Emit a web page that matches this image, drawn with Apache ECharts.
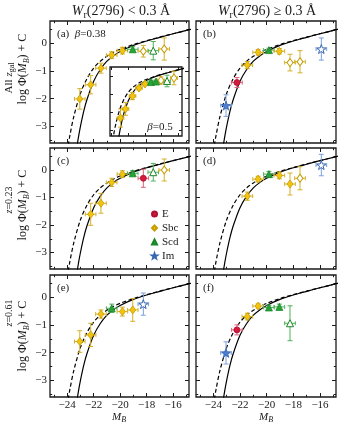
<!DOCTYPE html>
<html>
<head>
<meta charset="UTF-8">
<title>Luminosity functions</title>
<script src="https://cdn.jsdelivr.net/npm/echarts@6/dist/echarts.min.js"></script>
<style>html,body{margin:0;padding:0;background:#fff;}</style>
</head>
<body>
<div id="main" style="width:355px;height:427px;"></div>
<script>
// fitted curves (same in every panel)
const solidM   = [-23.3, -23.15, -23.0, -22.75, -22.5, -22.0, -21.5, -21.0, -20.5, -20.0, -19.0, -18.0, -17.0, -16.0, -15.0, -14.5];
const solidPhi = [-3.83, -3.39, -3.00, -2.45, -2.02, -1.37, -0.95, -0.65, -0.45, -0.30, -0.08, 0.08, 0.21, 0.34, 0.46, 0.52];
const dashM    = [-24.0, -23.9, -23.8, -23.5, -23.0, -22.5, -22.0, -21.5, -21.0, -20.5, -20.0, -19.0, -18.0, -17.0, -16.0, -15.0, -14.5];
const dashPhi  = [-3.91, -3.61, -3.33, -2.64, -1.81, -1.27, -0.90, -0.65, -0.47, -0.33, -0.22, -0.05, 0.09, 0.22, 0.34, 0.46, 0.52];

// [M_B, log phi, error, type, hollow]
const pointsA = [
  [-23.05, -2.01, 0.37, 'Sbc', 0], [-22.23, -1.50, 0.33, 'Sbc', 0], [-21.45, -0.90, 0.18, 'Sbc', 0],
  [-20.64, -0.43, 0.12, 'Sbc', 0], [-19.83, -0.27, 0.12, 'Sbc', 0], [-19.05, -0.22, 0.09, 'Scd', 0],
  [-18.25, -0.29, 0.21, 'Sbc', 1], [-17.50, -0.27, 0.33, 'Scd', 1], [-16.67, -0.21, 0.40, 'Sbc', 1]
];
const pointsB = [
  [-23.05, -2.25, 0.39, 'Im', 0], [-22.23, -1.42, 0.18, 'E', 0], [-21.45, -0.79, 0.13, 'Sbc', 0],
  [-20.64, -0.33, 0.10, 'Sbc', 0], [-19.83, -0.25, 0.07, 'Scd', 0], [-19.05, -0.29, 0.10, 'Sbc', 0],
  [-18.25, -0.70, 0.30, 'Sbc', 1], [-17.50, -0.67, 0.40, 'Sbc', 1], [-15.90, -0.21, 0.40, 'Im', 1]
];
const pointsC = [
  [-22.23, -1.61, 0.40, 'Sbc', 0], [-21.45, -1.21, 0.36, 'Sbc', 0], [-20.64, -0.45, 0.15, 'Sbc', 0],
  [-19.83, -0.15, 0.12, 'Sbc', 0], [-19.05, -0.12, 0.10, 'Scd', 0], [-18.25, -0.30, 0.33, 'E', 0],
  [-17.50, -0.08, 0.32, 'Scd', 1], [-16.67, 0.00, 0.40, 'Sbc', 1]
];
const pointsD = [
  [-21.45, -0.95, 0.15, 'Sbc', 0], [-20.64, -0.33, 0.10, 'Sbc', 0], [-19.83, -0.15, 0.10, 'Scd', 0],
  [-19.05, -0.20, 0.12, 'Sbc', 0], [-18.25, -0.51, 0.40, 'Sbc', 0], [-17.50, -0.30, 0.42, 'Sbc', 1],
  [-15.90, 0.18, 0.39, 'Im', 1]
];
const pointsE = [
  [-23.05, -1.60, 0.39, 'Sbc', 0], [-22.23, -1.36, 0.42, 'Sbc', 0], [-21.45, -0.61, 0.15, 'Sbc', 0],
  [-20.64, -0.40, 0.15, 'Scd', 0], [-19.83, -0.52, 0.16, 'Sbc', 0], [-19.05, -0.46, 0.41, 'Sbc', 0],
  [-18.25, -0.25, 0.40, 'Im', 1]
];
const pointsF = [
  [-23.05, -2.01, 0.40, 'Im', 0], [-22.23, -1.18, 0.18, 'E', 0], [-21.45, -0.70, 0.12, 'Sbc', 0],
  [-20.64, -0.32, 0.08, 'Sbc', 0], [-19.83, -0.37, 0.08, 'Scd', 0], [-19.05, -0.35, 0.10, 'Scd', 0],
  [-18.25, -0.94, 0.63, 'Scd', 1]
];
const pointsInset = [
  [-22.93, -2.31, 0.50, 'Sbc', 0], [-22.33, -1.81, 0.35, 'Sbc', 0], [-21.48, -1.10, 0.20, 'Sbc', 0],
  [-20.70, -0.66, 0.10, 'Sbc', 0], [-19.97, -0.44, 0.08, 'Sbc', 0], [-19.25, -0.33, 0.08, 'Scd', 0],
  [-18.64, -0.30, 0.08, 'Scd', 0], [-18.04, -0.24, 0.20, 'Sbc', 1], [-17.31, -0.27, 0.32, 'Scd', 1],
  [-16.47, -0.11, 0.37, 'Sbc', 1]
];

const xMajor = [-24, -22, -20, -18, -16];
const xMinor = [-25, -23, -21, -19, -17, -15];
const yMajor = [0, -1, -2, -3];
const yMinor = [0.5, -0.5, -1.5, -2.5, -3.5];
const legendNames = ['E', 'Sbc', 'Scd', 'Im'];

const SERIF = 'Liberation Serif';
const INK = '#1a1a1a';
const STAR = 'path://M0,-10L2.35,-3.24L9.51,-3.09L3.8,1.24L5.88,8.09L0,4L-5.88,8.09L-3.8,1.24L-9.51,-3.09L-2.35,-3.24Z';
const STYLES = {
  E:   {symbol: 'circle', size: 6, fill: '#d21c3c', edge: '#b01030', bar: '#e0607a'},
  Sbc: {symbol: 'diamond', size: [6, 8], fill: '#f2c40c', edge: '#c49c05', bar: '#d4b02a'},
  Scd: {symbol: 'triangle', size: 7, fill: '#26a236', edge: '#1c862a', bar: '#4cb259'},
  Im:  {symbol: STAR, size: 9, fill: '#4c7ed0', edge: '#3565b3', bar: '#7aa0dc'}
};

const panels = [
  {box: {left: 50, top: 21, width: 139, height: 122}, pts: pointsA, xl: false, yl: true},
  {box: {left: 196, top: 21, width: 140, height: 122}, pts: pointsB, xl: false, yl: false},
  {box: {left: 50, top: 148, width: 139, height: 121}, pts: pointsC, xl: false, yl: true},
  {box: {left: 196, top: 148, width: 140, height: 121}, pts: pointsD, xl: false, yl: false},
  {box: {left: 50, top: 275, width: 139, height: 122}, pts: pointsE, xl: true, yl: true},
  {box: {left: 196, top: 275, width: 140, height: 122}, pts: pointsF, xl: true, yl: false},
  {box: {left: 110, top: 67, width: 72, height: 69}, pts: pointsInset, xl: false, yl: false, inset: true}
];

const fmt = v => (v < 0 ? '\u2212' + (-v) : '' + v);

function axis(g, pos, min, max, vals, len, label) {
  return {
    type: 'value', gridIndex: g, position: pos, min: min, max: max,
    axisLine: {show: false, onZero: false}, splitLine: {show: false},
    axisTick: {show: vals.length > 0, inside: true, length: len, customValues: vals.length ? vals : undefined,
      lineStyle: {color: INK, width: 1}},
    axisLabel: {show: label, customValues: vals.length ? vals : undefined, formatter: fmt, margin: 3,
      fontFamily: SERIF, fontSize: 11, color: INK}
  };
}

const grids = [], xAxes = [], yAxes = [], series = [];
panels.forEach((p, g) => {
  grids.push(Object.assign({show: true, borderColor: INK, borderWidth: 1.3, backgroundColor: 'transparent'}, p.box));
  const xr = p.inset ? [-24.2, -15.5] : [-25.3, -14.8];
  const yr = p.inset ? [-3.3, 0.5] : [-3.6, 0.8];
  const tl = p.inset ? 3 : 4;
  const xm = p.inset ? [] : xMinor, ym = p.inset ? [] : yMinor;
  xAxes.push(axis(g, 'bottom', xr[0], xr[1], xMajor, tl, p.xl));
  xAxes.push(axis(g, 'top', xr[0], xr[1], xMajor, tl, false));
  xAxes.push(axis(g, 'bottom', xr[0], xr[1], xm, 2.2, false));
  xAxes.push(axis(g, 'top', xr[0], xr[1], xm, 2.2, false));
  yAxes.push(axis(g, 'left', yr[0], yr[1], yMajor, tl, p.yl));
  yAxes.push(axis(g, 'right', yr[0], yr[1], yMajor, tl, false));
  yAxes.push(axis(g, 'left', yr[0], yr[1], ym, 2.2, false));
  yAxes.push(axis(g, 'right', yr[0], yr[1], ym, 2.2, false));

  const ax = {xAxisIndex: 4 * g, yAxisIndex: 4 * g};
  series.push(Object.assign({type: 'line', smooth: 0.3, showSymbol: false, silent: true, z: 2,
    data: dashM.map((m, i) => [m, dashPhi[i]]),
    lineStyle: {color: '#000', width: 1.2, type: [4, 2.5]}}, ax));
  series.push(Object.assign({type: 'line', smooth: 0.3, showSymbol: false, silent: true, z: 2,
    data: solidM.map((m, i) => [m, solidPhi[i]]),
    lineStyle: {color: '#000', width: 1.2}}, ax));

  const pts = p.pts;
  const xerr = 0.4;
  series.push(Object.assign({
    type: 'custom', silent: true, z: 3,
    data: pts.map(q => [q[0], q[1]]),
    renderItem: function (params, api) {
      const q = pts[params.dataIndex];
      const st = {stroke: STYLES[q[3]].bar, lineWidth: 1};
      const l = api.coord([q[0] - xerr, q[1]]), r = api.coord([q[0] + xerr, q[1]]);
      const t = api.coord([q[0], q[1] + q[2]]), b = api.coord([q[0], q[1] - q[2]]);
      const seg = (x1, y1, x2, y2) => ({type: 'line', shape: {x1, y1, x2, y2}, style: st});
      return {type: 'group', children: [
        seg(l[0], l[1], r[0], r[1]), seg(l[0], l[1] - 2, l[0], l[1] + 2), seg(r[0], r[1] - 2, r[0], r[1] + 2),
        seg(t[0], t[1], b[0], b[1]), seg(t[0] - 2.5, t[1], t[0] + 2.5, t[1]), seg(b[0] - 2.5, b[1], b[0] + 2.5, b[1])
      ]};
    }
  }, ax));

  legendNames.forEach(name => {
    const s = STYLES[name];
    const sel = pts.filter(q => q[3] === name);
    if (!sel.length && g !== 2) return;
    series.push(Object.assign({
      type: 'scatter', name: name, symbol: s.symbol, symbolSize: s.size, z: 4, silent: true,
      itemStyle: {color: s.fill, borderColor: s.edge, borderWidth: 0.8, opacity: 1},
      data: sel.map(q => q[4]
        ? {value: [q[0], q[1]], itemStyle: {color: '#fff', borderColor: s.edge, borderWidth: 1}}
        : [q[0], q[1]])
    }, ax));
  });
});

function rich(size) {
  const sub = Math.round(size * 0.7);
  return {
    i: {fontFamily: SERIF, fontSize: size, fontStyle: 'italic', fill: INK},
    s: {fontFamily: SERIF, fontSize: sub, fill: INK, padding: [Math.round(size * 0.55), 0, 0, 0]},
    si: {fontFamily: SERIF, fontSize: sub, fontStyle: 'italic', fill: INK, padding: [Math.round(size * 0.55), 0, 0, 0]}
  };
}
function label(x, y, text, size, opts) {
  return Object.assign({
    type: 'text', x: x, y: y, z: 20, silent: true,
    style: {text: text, fontFamily: SERIF, fontSize: size, fill: INK,
      align: 'center', verticalAlign: 'middle', rich: rich(size)}
  }, opts || {});
}
const up = {rotation: Math.PI / 2};
const graphics = [
  label(121, 11, '{i|W}{s|r}(2796) < 0.3 Å', 14),
  label(267, 11, '{i|W}{s|r}(2796) ≥ 0.3 Å', 14),
  label(9, 78, 'All {i|z}{s|gal}', 11, up),
  label(9, 200, '{i|z}=0.23', 10, up),
  label(9, 313, '{i|z}=0.61', 10, up),
  label(23, 69, 'log Φ({i|M}{si|B}) + C', 12, up),
  label(23, 205, 'log Φ({i|M}{si|B}) + C', 12, up),
  label(23, 336, 'log Φ({i|M}{si|B}) + C', 12, up),
  label(119, 417, '{i|M}{si|B}', 11),
  label(266, 417, '{i|M}{si|B}', 11),
  label(160, 127, '{i|β}=0.5', 11)
];
[['(a)  {i|β}=0.38', 57, 34], ['(b)', 203, 34], ['(c)', 57, 161], ['(d)', 203, 161],
 ['(e)', 57, 288], ['(f)', 203, 288]].forEach(d => {
  const t = label(d[1], d[2], d[0], 11);
  t.style.align = 'left';
  graphics.push(t);
});

const chart = echarts.init(document.getElementById('main'), null, {renderer: 'canvas'});
chart.setOption({
  animation: false,
  grid: grids,
  xAxis: xAxes,
  yAxis: yAxes,
  legend: {
    data: legendNames, orient: 'vertical', left: 146, top: 203, itemWidth: 5, itemHeight: 5, itemGap: 2,
    selectedMode: false, textStyle: {fontFamily: SERIF, fontSize: 11, color: INK, lineHeight: 12}
  },
  graphic: graphics,
  series: series
});
</script>
</body>
</html>
